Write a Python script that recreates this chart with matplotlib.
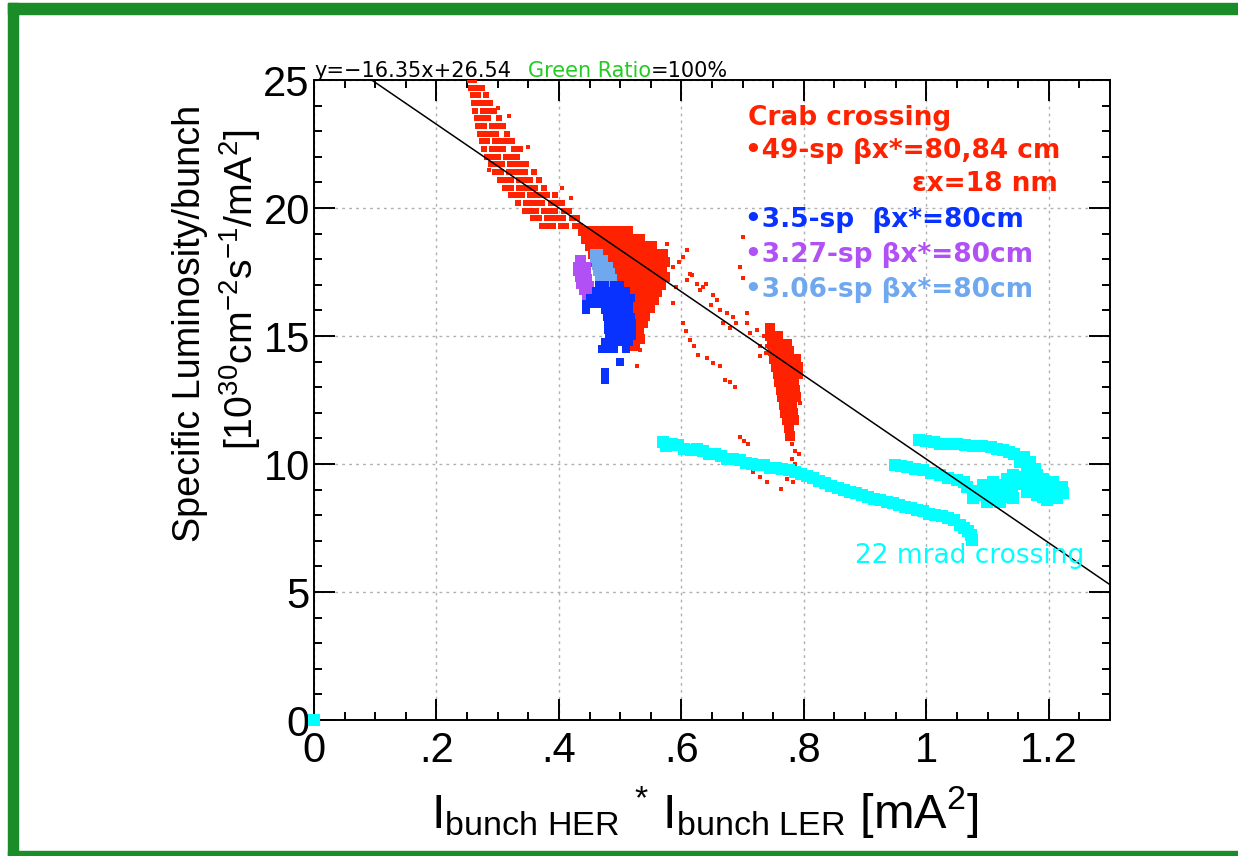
import numpy as np
import matplotlib
matplotlib.use('Agg')
import matplotlib.pyplot as plt
from matplotlib import font_manager
from matplotlib.patches import Rectangle
from matplotlib.ticker import MultipleLocator, FuncFormatter

#----------------- DATA -----------------
# linear fit printed on top of the plot
fit_slope = -16.35
fit_intercept = 26.54

# 49-sp crab crossing : upper band, read row by row (y, list of x)
band_y = [25.0, 24.7, 24.4, 24.1, 23.8, 23.5, 23.2, 22.9, 22.6, 22.3, 22.0,
          21.7, 21.4, 21.1, 20.8, 20.5, 20.2, 19.9, 19.6, 19.3]
band_x = [[0.254, 0.262],
          [0.256, 0.265, 0.274],
          [0.259, 0.268, 0.281],
          [0.261, 0.270, 0.279, 0.288],
          [0.263, 0.276, 0.285, 0.294],
          [0.266, 0.275, 0.284, 0.302],
          [0.268, 0.277, 0.290, 0.299, 0.308],
          [0.271, 0.280, 0.289, 0.298, 0.316],
          [0.274, 0.283, 0.296, 0.305, 0.314, 0.323],
          [0.278, 0.291, 0.300, 0.309, 0.327, 0.336],
          [0.283, 0.292, 0.301, 0.314, 0.323, 0.332],
          [0.289, 0.298, 0.307, 0.320, 0.329, 0.338, 0.347],
          [0.296, 0.305, 0.318, 0.327, 0.336, 0.345, 0.359],
          [0.304, 0.313, 0.322, 0.335, 0.344, 0.353, 0.367],
          [0.312, 0.321, 0.334, 0.343, 0.352, 0.361, 0.375],
          [0.322, 0.331, 0.340, 0.353, 0.362, 0.371, 0.380, 0.394],
          [0.333, 0.346, 0.355, 0.364, 0.373, 0.387, 0.396, 0.405],
          [0.345, 0.354, 0.363, 0.376, 0.385, 0.394, 0.408, 0.417],
          [0.358, 0.367, 0.380, 0.389, 0.398, 0.407, 0.421, 0.430],
          [0.372, 0.381, 0.390, 0.403, 0.412, 0.426, 0.435]]

# 49-sp : dense core behind the other runs (y, list of x)
core_y = [19.1, 18.8, 18.5, 18.2, 17.9, 17.6, 17.3, 17.0, 16.7, 16.4, 16.1,
          15.8, 15.5, 15.2, 14.9, 14.6]
core_x = [[0.440, 0.455, 0.470, 0.485, 0.500, 0.512],
          [0.445, 0.460, 0.475, 0.490, 0.505, 0.520, 0.532],
          [0.450, 0.465, 0.480, 0.495, 0.510, 0.525, 0.540, 0.552],
          [0.455, 0.470, 0.485, 0.500, 0.515, 0.530, 0.545, 0.560, 0.570],
          [0.460, 0.475, 0.490, 0.505, 0.520, 0.535, 0.550, 0.563, 0.574],
          [0.465, 0.480, 0.495, 0.510, 0.525, 0.540, 0.555, 0.568],
          [0.470, 0.485, 0.500, 0.515, 0.530, 0.545, 0.560, 0.573],
          [0.480, 0.495, 0.510, 0.525, 0.540, 0.555, 0.566],
          [0.490, 0.505, 0.520, 0.535, 0.550, 0.560],
          [0.500, 0.515, 0.530, 0.545, 0.555],
          [0.505, 0.520, 0.535, 0.548],
          [0.510, 0.525, 0.540],
          [0.515, 0.528, 0.538],
          [0.515, 0.530],
          [0.520, 0.532],
          [0.525]]

# 49-sp : vertical blob near 0.78 (y, list of x)
blob_y = [15.3, 15.0, 14.7, 14.4, 14.1, 13.8, 13.5, 13.2, 12.9, 12.6, 12.3,
          12.0, 11.7, 11.4, 11.1]
blob_x = [[0.745],
          [0.745, 0.757],
          [0.748, 0.760, 0.772],
          [0.750, 0.763, 0.776],
          [0.752, 0.765, 0.778, 0.788],
          [0.755, 0.768, 0.780, 0.790],
          [0.758, 0.770, 0.782, 0.790],
          [0.760, 0.772, 0.784],
          [0.763, 0.775, 0.786],
          [0.765, 0.777, 0.788],
          [0.768, 0.780],
          [0.770, 0.782],
          [0.772, 0.784],
          [0.776],
          [0.778]]

# 49-sp : isolated points
red_x = [0.609, 0.603, 0.587, 0.614, 0.609, 0.625, 0.630, 0.641, 0.652, 0.658, 0.663, 0.674,
         0.685, 0.690, 0.707, 0.707, 0.712, 0.723, 0.728, 0.739, 0.728, 0.701, 0.696, 0.701,
         0.576, 0.565, 0.592, 0.587, 0.532, 0.527, 0.596, 0.618, 0.636, 0.648, 0.668, 0.680,
         0.603, 0.614, 0.627, 0.642, 0.652, 0.663, 0.672, 0.680, 0.688, 0.620, 0.608,
         0.740, 0.735, 0.793, 0.780, 0.785, 0.780,
         0.696, 0.703, 0.709, 0.717, 0.728, 0.740, 0.762, 0.773, 0.783, 0.792, 0.786, 0.788,
         0.300, 0.318, 0.350, 0.285, 0.405, 0.420]
red_y = [18.35, 18.09, 17.70, 17.44, 17.18, 17.05, 16.80, 17.05, 16.60, 16.40, 16.00, 15.90,
         15.76, 15.50, 15.90, 15.50, 15.10, 15.24, 14.60, 14.34, 14.20, 18.86, 17.70, 17.25,
         18.60, 18.09, 16.93, 16.28, 14.47, 13.82, 17.90, 17.40, 16.90, 16.20, 15.50, 15.30,
         15.50, 14.85, 14.26, 14.15, 13.95, 13.84, 13.30, 13.20, 13.00, 14.60, 15.20,
         14.60, 15.00, 12.40, 10.80, 10.50, 10.20,
         11.05, 10.90, 10.80, 9.70, 9.50, 9.30, 9.03, 9.40, 9.30, 10.40, 10.00, 9.60,
         23.90, 23.60, 22.40, 21.50, 20.80, 20.40]

# 3.5-sp (y, list of x)
blue_rows_y = [17.0, 16.75, 16.5, 16.25, 16.0, 15.75, 15.5, 15.25, 15.0, 14.75, 14.5,
               14.0, 13.6, 13.3]
blue_rows_x = [[0.465, 0.475, 0.490, 0.500],
               [0.460, 0.470, 0.480, 0.490, 0.500, 0.510],
               [0.450, 0.460, 0.470, 0.480, 0.490, 0.500, 0.510, 0.518],
               [0.445, 0.455, 0.465, 0.475, 0.485, 0.495, 0.505, 0.515],
               [0.445, 0.475, 0.485, 0.495, 0.505, 0.515],
               [0.478, 0.488, 0.498, 0.508, 0.518],
               [0.480, 0.490, 0.500, 0.510, 0.520],
               [0.480, 0.490, 0.500, 0.510, 0.520],
               [0.482, 0.492, 0.502, 0.512, 0.520],
               [0.475, 0.485, 0.495, 0.505, 0.515],
               [0.470, 0.480, 0.490, 0.510],
               [0.500],
               [0.476],
               [0.476]]

# 3.27-sp (y, list of x)
purple_rows_y = [18.0, 17.75, 17.5, 17.25, 17.0, 16.75, 16.5]
purple_rows_x = [[0.432, 0.438],
                 [0.430, 0.438, 0.446],
                 [0.430, 0.438, 0.446],
                 [0.432, 0.440, 0.448],
                 [0.435, 0.443, 0.451],
                 [0.440, 0.448, 0.455],
                 [0.445, 0.453]]

# 3.06-sp (y, list of x)
lblue_rows_y = [18.25, 18.0, 17.75, 17.5, 17.25, 17.0, 16.75, 16.55]
lblue_rows_x = [[0.458, 0.465],
                [0.458, 0.466, 0.474],
                [0.460, 0.468, 0.476, 0.482],
                [0.462, 0.470, 0.478, 0.485],
                [0.465, 0.473, 0.481, 0.488],
                [0.470, 0.478, 0.486, 0.492],
                [0.475, 0.483, 0.490],
                [0.482, 0.490]]

# 22 mrad crossing
cyan_x = [0.000,
          0.570, 0.575, 0.585, 0.595, 0.605, 0.615, 0.625, 0.635, 0.645, 0.655, 0.665, 0.675,
          0.685, 0.695, 0.705, 0.715, 0.725, 0.735, 0.745, 0.755, 0.765, 0.775, 0.785, 0.795,
          0.805, 0.815, 0.825, 0.835, 0.845, 0.855, 0.865, 0.875, 0.885, 0.895, 0.905, 0.915,
          0.925, 0.935, 0.945, 0.955, 0.965, 0.975, 0.985, 0.995, 1.005, 1.015, 1.025, 1.035,
          1.045, 1.055, 1.062, 1.068, 1.073, 1.075,
          0.988, 1.000, 1.012, 1.023, 1.036, 1.050, 1.063, 1.077, 1.091, 1.105, 1.116, 1.126,
          1.135, 1.143, 1.159, 1.170, 1.178, 1.181, 1.153, 1.164, 1.185,
          0.949, 0.958, 0.968, 0.982, 0.995, 1.008, 1.022, 1.036, 1.050, 1.066, 1.077, 1.093,
          1.109, 1.126, 1.131, 1.142, 1.158, 1.175, 1.191, 1.207, 1.221, 1.224, 1.213, 1.197,
          1.180, 1.164, 1.142, 1.120, 1.099, 1.077, 1.093, 1.109, 1.126, 1.186, 1.202, 1.150,
          1.135, 1.062, 1.085, 1.115,
          1.100, 1.120, 1.140, 1.160, 1.180, 1.200, 1.210, 1.190, 1.170, 1.130, 1.105]
cyan_y = [0.00,
          10.85, 10.70, 10.80, 10.75, 10.60, 10.55, 10.60, 10.50, 10.40, 10.40, 10.30, 10.20,
          10.20, 10.15, 10.05, 10.00, 9.95, 9.95, 9.85, 9.85, 9.80, 9.75, 9.70, 9.60,
          9.55, 9.45, 9.35, 9.25, 9.15, 9.05, 9.00, 8.92, 8.85, 8.78, 8.72, 8.64,
          8.60, 8.52, 8.48, 8.40, 8.33, 8.28, 8.20, 8.15, 8.05, 8.00, 7.95, 7.88,
          7.80, 7.62, 7.50, 7.38, 7.22, 7.05,
          10.92, 10.90, 10.85, 10.79, 10.80, 10.79, 10.75, 10.72, 10.70, 10.66, 10.60, 10.53,
          10.47, 10.40, 10.27, 10.08, 9.82, 9.56, 10.08, 9.82, 9.25,
          9.95, 9.92, 9.88, 9.82, 9.75, 9.66, 9.56, 9.46, 9.37, 9.11, 8.91, 8.79,
          8.72, 8.85, 9.43, 9.56, 9.50, 9.43, 9.43, 9.30, 9.11, 8.85, 8.66, 8.59,
          8.79, 8.91, 8.66, 8.53, 8.53, 8.66, 9.17, 9.30, 9.17, 9.04, 8.91, 9.20,
          9.00, 9.30, 8.95, 8.60,
          9.00, 9.05, 9.10, 9.20, 9.10, 9.20, 8.80, 8.70, 8.95, 8.70, 8.65]


def rows(ys, xs):
    # flatten (y, [x...]) rows into two point lists
    px, py = [], []
    for y, xr in zip(ys, xs):
        px += list(xr)
        py += [y] * len(xr)
    return px, py

#----------------- FIGURE -----------------
W, H = 1238, 856
names = set(f.name for f in font_manager.fontManager.ttflist)
narrow = 'Liberation Sans Narrow' if 'Liberation Sans Narrow' in names else 'Liberation Sans'
plt.rcParams['mathtext.fontset'] = 'custom'
plt.rcParams['mathtext.rm'] = narrow
plt.rcParams['mathtext.it'] = narrow
plt.rcParams['mathtext.bf'] = narrow

def fx(px):
    return px / W

def fy(py):
    return 1 - py / H

fig = plt.figure(figsize=(W / 100, H / 100), dpi=100)
ax = fig.add_axes([fx(314), fy(720), fx(1110) - fx(314), fy(80) - fy(720)])

xmin, xmax = 0, 1.3
ax.set_xlim(xmin, xmax)
ax.set_ylim(0, 25)

ax.grid(True, which='major', color='#b0b0b0', linestyle=(0, (2, 3)), linewidth=1)
ax.set_axisbelow(True)

red = '#ff2200'
bx, by = rows(band_y, band_x)
cx, cy = rows(core_y, core_x)
kx, ky = rows(blob_y, blob_x)
ax.plot(bx, by, 's', color=red, markersize=4.8, markeredgewidth=0, zorder=3)
ax.plot(red_x, red_y, 's', color=red, markersize=3.2, markeredgewidth=0, zorder=3)
ax.plot(cx, cy, 's', color=red, markersize=7.5, markeredgewidth=0, zorder=3)
ax.plot(kx, ky, 's', color=red, markersize=7, markeredgewidth=0, zorder=3)
lx, ly = rows(lblue_rows_y, lblue_rows_x)
ax.plot(lx, ly, 's', color='#70a8f0', markersize=5.5, markeredgewidth=0, zorder=4)
ux, uy = rows(purple_rows_y, purple_rows_x)
ax.plot(ux, uy, 's', color='#b050f5', markersize=5.5, markeredgewidth=0, zorder=4)
blx, bly = rows(blue_rows_y, blue_rows_x)
ax.plot(blx, bly, 's', color='#0a32ff', markersize=6, markeredgewidth=0, zorder=5)
ax.plot(cyan_x, cyan_y, 's', color='#00ffff', markersize=8, markeredgewidth=0, zorder=4,
        clip_on=False)

# fit line
fit_x = np.array([xmin, xmax])
ax.plot(fit_x, fit_slope * fit_x + fit_intercept, color='black', linewidth=1.1, zorder=6)

# axes style (ROOT like)
for sp in ax.spines.values():
    sp.set_linewidth(1.4)
ax.xaxis.set_major_locator(MultipleLocator(0.2))
ax.xaxis.set_minor_locator(MultipleLocator(0.05))
ax.yaxis.set_major_locator(MultipleLocator(5))
ax.yaxis.set_minor_locator(MultipleLocator(1))

def xfmt(v, pos):
    s = '%g' % round(v, 3)
    if s.startswith('0.'):
        s = s[1:]
    return s

ax.xaxis.set_major_formatter(FuncFormatter(xfmt))
ax.tick_params(which='both', direction='in', top=True, right=True, width=1.4, colors='black')
ax.tick_params(which='major', length=15)
ax.tick_params(which='minor', length=5.5)
ax.tick_params(axis='x', which='major', pad=8)
ax.tick_params(axis='y', which='major', pad=3)
for lab in ax.get_xticklabels() + ax.get_yticklabels():
    lab.set_fontfamily('Liberation Sans')
    lab.set_fontsize(30)

# axis titles
fig.text(fx(705), fy(812), r'$\mathrm{I_{bunch\ HER}\ {}^{*}\ I_{bunch\ LER}\ [mA^{2}]}$',
         fontsize=35, ha='center', va='center')
fig.text(fx(190), fy(323), 'Specific Luminosity/bunch', family=narrow, fontsize=27.2,
         rotation=90, ha='center', va='center')
fig.text(fx(240), fy(290), r'$\mathrm{[10^{30}cm^{-2}s^{-1}/mA^{2}]}$', fontsize=28.3,
         rotation=90, ha='center', va='center')

# fit text on top
t1 = fig.text(fx(314), fy(77), 'y=\u221216.35x+26.54', fontsize=15, color='black', va='baseline')
t2 = fig.text(fx(528), fy(77), 'Green Ratio', fontsize=15, color='#22cc22', va='baseline')
ax.annotate('=100%', xy=(1, 0), xycoords=t2, va='bottom', ha='left', fontsize=15, color='black',
            annotation_clip=False)

# legend style labels
fs = 19
fig.text(fx(748), fy(125), 'Crab crossing', color=red, fontsize=fs, weight='bold', va='baseline')
fig.text(fx(745), fy(158), '\u202249-sp \u03b2x*=80,84 cm', color=red, fontsize=fs,
         weight='bold', va='baseline')
fig.text(fx(1058), fy(191), '\u03b5x=18 nm', color=red, fontsize=fs, weight='bold',
         va='baseline', ha='right')
fig.text(fx(745), fy(227), '\u20223.5-sp  \u03b2x*=80cm', color='#0a32ff', fontsize=fs,
         weight='bold', va='baseline')
fig.text(fx(745), fy(262), '\u20223.27-sp \u03b2x*=80cm', color='#b050f5', fontsize=fs,
         weight='bold', va='baseline')
fig.text(fx(745), fy(297), '\u20223.06-sp \u03b2x*=80cm', color='#70a8f0', fontsize=fs,
         weight='bold', va='baseline')
fig.text(fx(855), fy(563), '22 mrad crossing', color='#00ffff', fontsize=19, va='baseline')

# green frame of the slide
green = '#1a8c28'
fig.patches.append(Rectangle((fx(8), fy(856)), fx(10), fy(3) - fy(856), transform=fig.transFigure,
                             color=green, figure=fig))
fig.patches.append(Rectangle((fx(8), fy(14)), 1, fy(3) - fy(14), transform=fig.transFigure,
                             color=green, figure=fig))
fig.patches.append(Rectangle((fx(8), 0), 1, fy(851), transform=fig.transFigure,
                             color=green, figure=fig))

fig.savefig('out.png', dpi=100)
